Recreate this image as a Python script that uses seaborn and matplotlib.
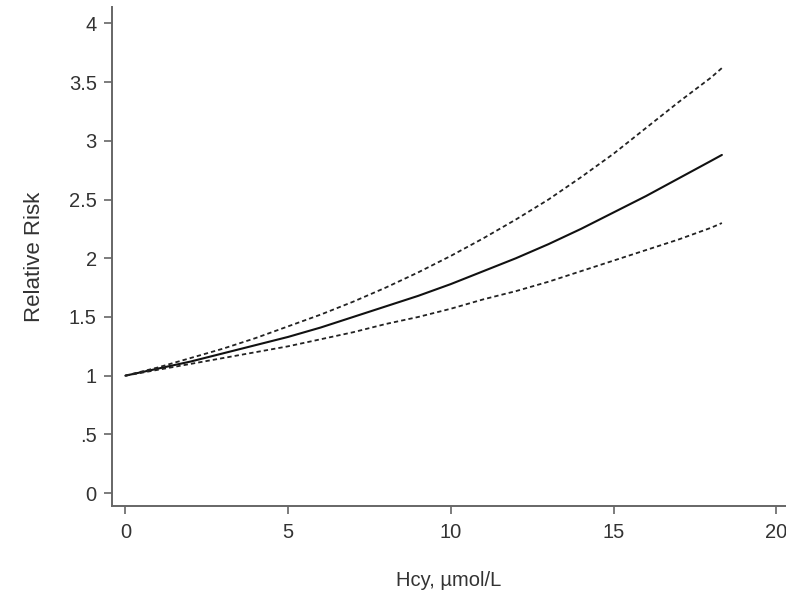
import matplotlib
matplotlib.use("Agg")
import matplotlib.pyplot as plt
import seaborn as sns
import pandas as pd

hcy = [0, 1, 2, 3, 4, 5, 6, 7, 8, 9, 10, 11, 12, 13, 14, 15, 16, 17, 18, 18.33]
rr_est = [1.00, 1.06, 1.12, 1.19, 1.26, 1.33, 1.41, 1.50, 1.59, 1.68, 1.78,
          1.89, 2.00, 2.12, 2.25, 2.39, 2.53, 2.68, 2.83, 2.88]
rr_upper = [1.00, 1.07, 1.15, 1.23, 1.32, 1.42, 1.52, 1.63, 1.75, 1.88, 2.02,
            2.17, 2.33, 2.50, 2.69, 2.89, 3.11, 3.33, 3.54, 3.62]
rr_lower = [1.00, 1.05, 1.10, 1.15, 1.20, 1.25, 1.31, 1.37, 1.44, 1.50, 1.57,
            1.65, 1.72, 1.80, 1.89, 1.98, 2.07, 2.16, 2.26, 2.30]
xticks = [0, 5, 10, 15, 20]
yticks = [0, 0.5, 1, 1.5, 2, 2.5, 3, 3.5, 4]
ytick_labels = ["0", ".5", "1", "1.5", "2", "2.5", "3", "3.5", "4"]

df = pd.concat([
    pd.DataFrame({"x": hcy, "y": rr_est, "s": "est"}),
    pd.DataFrame({"x": hcy, "y": rr_upper, "s": "upper"}),
    pd.DataFrame({"x": hcy, "y": rr_lower, "s": "lower"}),
])

sns.set_style("white")
plt.rcParams["font.family"] = ["Liberation Sans", "DejaVu Sans"]

fig = plt.figure(figsize=(7.86, 5.91), dpi=100)
ax = fig.add_axes([112 / 786, 85 / 591, 674 / 786, (591 - 85 - 7) / 591])

sns.lineplot(data=df, x="x", y="y", hue="s", style="s",
             palette={"est": "#111111", "upper": "#222222", "lower": "#222222"},
             dashes={"est": "", "upper": (2.4, 1.7), "lower": (2.4, 1.7)},
             size="s", sizes={"est": 1.5, "upper": 1.3, "lower": 1.3},
             legend=False, ax=ax, sort=False, estimator=None)

ax.set_xlim(-0.41, 20.30)
ax.set_ylim(-0.11, 4.14)
ax.set_xticks(xticks)
ax.set_xticklabels([str(t) for t in xticks])
ax.set_yticks(yticks)
ax.set_yticklabels(ytick_labels)

for side in ["top", "right"]:
    ax.spines[side].set_visible(False)
for side in ["left", "bottom"]:
    ax.spines[side].set_color("#666666")
    ax.spines[side].set_linewidth(1.4)

ax.tick_params(axis="both", direction="out", length=6, width=1.2,
               color="#666666", labelsize=14.5, labelcolor="#333333",
               left=True, bottom=True)
ax.tick_params(axis="x", pad=6)
ax.tick_params(axis="y", pad=5)
ax.set_xlabel("Hcy, µmol/L", fontsize=14.5, color="#333333", labelpad=21)
ax.set_ylabel("Relative Risk", fontsize=16, color="#333333", labelpad=17)

fig.savefig("out.png", dpi=100)
